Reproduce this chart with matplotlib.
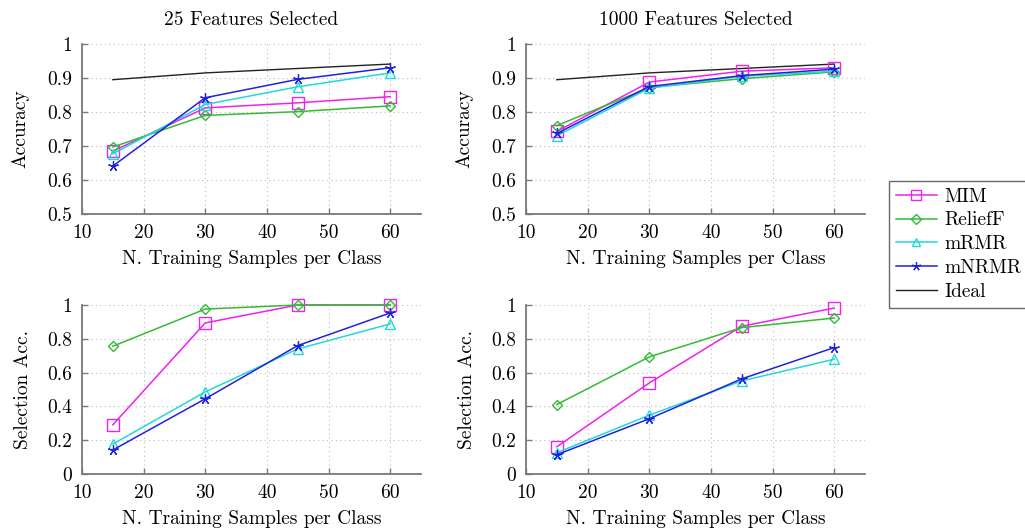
import matplotlib
matplotlib.use("Agg")
import matplotlib.pyplot as plt
from matplotlib.lines import Line2D

plt.rcParams['font.family'] = ['cmr10', 'DejaVu Serif']
plt.rcParams['axes.formatter.use_mathtext'] = True
plt.rcParams['mathtext.fontset'] = 'cm'

# ---------------- data ----------------
samples = [15, 30, 45, 60]
ideal = [0.895, 0.915, 0.928, 0.941]

acc25_mim = [0.685, 0.812, 0.827, 0.845]
acc25_relieff = [0.697, 0.790, 0.801, 0.818]
acc25_mrmr = [0.677, 0.822, 0.874, 0.915]
acc25_mnrmr = [0.641, 0.842, 0.896, 0.930]

acc1000_mim = [0.743, 0.888, 0.920, 0.930]
acc1000_relieff = [0.760, 0.872, 0.898, 0.918]
acc1000_mrmr = [0.730, 0.870, 0.905, 0.920]
acc1000_mnrmr = [0.737, 0.875, 0.907, 0.926]

sel25_mim = [0.291, 0.894, 1.0, 1.0]
sel25_relieff = [0.756, 0.976, 1.0, 1.0]
sel25_mrmr = [0.177, 0.486, 0.740, 0.888]
sel25_mnrmr = [0.142, 0.445, 0.760, 0.953]

sel1000_mim = [0.161, 0.539, 0.874, 0.982]
sel1000_relieff = [0.411, 0.693, 0.866, 0.923]
sel1000_mrmr = [0.126, 0.348, 0.551, 0.679]
sel1000_mnrmr = [0.114, 0.327, 0.563, 0.748]

methods = ['MIM', 'ReliefF', 'mRMR', 'mNRMR']
titles = ['25 Features Selected', '1000 Features Selected']
xlabel = 'N. Training Samples per Class'
ylabels = ['Accuracy', 'Selection Acc.']
xticks = [10, 20, 30, 40, 50, 60]
acc_yticks = [0.5, 0.6, 0.7, 0.8, 0.9, 1.0]
acc_yticklabels = ['0.5', '0.6', '0.7', '0.8', '0.9', '1']
sel_yticks = [0, 0.2, 0.4, 0.6, 0.8, 1.0]
sel_yticklabels = ['0', '0.2', '0.4', '0.6', '0.8', '1']

# ---------------- styles ----------------
colors = ['#ee22ee', '#33bb33', '#22d8d8', '#2222dd']
markers = ['s', 'D', '^', (5, 2, 0)]
msizes = [8, 5.5, 7, 7.5]
mews = [1.0, 1.0, 1.0, 0.9]
spine_col = '#7a7a7a'

fig = plt.figure(figsize=(10.25, 5.3), dpi=100)

W = 339 / 1025
pos = {
    (0, 0): [82 / 1025, 1 - 214 / 530, W, 170 / 530],
    (0, 1): [526 / 1025, 1 - 214 / 530, W, 170 / 530],
    (1, 0): [82 / 1025, 1 - 474 / 530, W, 169 / 530],
    (1, 1): [526 / 1025, 1 - 474 / 530, W, 169 / 530],
}

panels = {
    (0, 0): [acc25_mim, acc25_relieff, acc25_mrmr, acc25_mnrmr],
    (0, 1): [acc1000_mim, acc1000_relieff, acc1000_mrmr, acc1000_mnrmr],
    (1, 0): [sel25_mim, sel25_relieff, sel25_mrmr, sel25_mnrmr],
    (1, 1): [sel1000_mim, sel1000_relieff, sel1000_mrmr, sel1000_mnrmr],
}

fs = 14
for (r, c), series in panels.items():
    ax = fig.add_axes(pos[(r, c)])
    for i, vals in enumerate(series):
        ax.plot(samples, vals, color=colors[i], lw=1.1, marker=markers[i],
                ms=msizes[i], mfc='none', mec=colors[i], mew=mews[i],
                zorder=3, clip_on=False)
    if r == 0:
        ax.plot(samples, ideal, color='#222222', lw=1.0, zorder=2)
        ax.set_ylim(0.5, 1.0)
        ax.set_yticks(acc_yticks)
        ax.set_yticklabels(acc_yticklabels)
        ax.set_title(titles[c], fontsize=fs, pad=14)
    else:
        ax.set_ylim(0, 1.0)
        ax.set_yticks(sel_yticks)
        ax.set_yticklabels(sel_yticklabels)
    ax.set_xlim(10, 65)
    ax.set_xticks(xticks)
    ax.set_xticklabels([str(t) for t in xticks])
    ax.set_xlabel(xlabel, fontsize=fs, labelpad=6)
    ax.set_ylabel(ylabels[r], fontsize=fs, labelpad=13 if r == 0 else 11)
    ax.grid(True, linestyle=(0, (1, 3)), color='#bbbbbb', lw=0.8)
    ax.set_axisbelow(True)
    for s in ['top', 'right']:
        ax.spines[s].set_visible(False)
    for s in ['left', 'bottom']:
        ax.spines[s].set_color(spine_col)
        ax.spines[s].set_linewidth(1.3)
    ax.tick_params(direction='in', length=4, color=spine_col, width=1.0,
                   labelsize=fs, pad=7)

handles = [Line2D([0], [0], color=colors[i], lw=1.1, marker=markers[i],
                  ms=msizes[i] * 0.85, mfc='none', mec=colors[i], mew=mews[i])
           for i in range(4)]
handles.append(Line2D([0], [0], color='#222222', lw=1.0))
leg = fig.legend(handles, methods + ['Ideal'], loc='upper left',
                 bbox_to_anchor=(889 / 1025, 1 - 181 / 530), fontsize=fs,
                 frameon=True, fancybox=False, edgecolor='#444444',
                 handlelength=2.1, borderpad=0.35, labelspacing=0.3,
                 handletextpad=0.4, borderaxespad=0)
leg.get_frame().set_linewidth(1.0)

fig.savefig('out.png', dpi=100)
